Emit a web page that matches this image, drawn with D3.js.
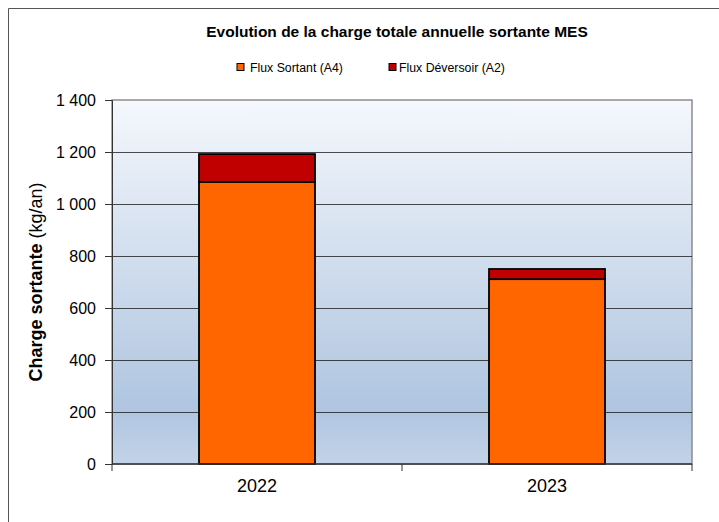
<html>
<head><meta charset="utf-8"></head>
<script src='https://d3js.org/d3.v7.min.js'></script>
<style>
body {margin:0; background:#fff;}
text {font-family: Arial, 'Liberation Sans', sans-serif;}
</style>
<body onload='init()'>
<svg width=719 height=522></svg>
<script>
// values (kg/an)
const years = ['2022', '2023'];
const fluxSortant = [1085, 711];
const fluxDeversoir = [107, 39];
const seriesNames = ['Flux Sortant (A4)', 'Flux Déversoir (A2)'];
const seriesColors = ['#ff6600', '#c00000'];
const yTicks = [0, 200, 400, 600, 800, 1000, 1200, 1400];

function init() {
var svg = d3.select('svg');
var left = 112, top = 100, width = 580, height = 364;

// outer frame (only top and left show in the picture)
svg.append('path').attr('d', 'M8.5,522 V8.5 H719').attr('fill', 'none').attr('stroke', '#555');

var x = d3.scaleBand().domain(years).range([0, width]).paddingInner(0.6).paddingOuter(0.3);
var y = d3.scaleLinear().domain([0, 1400]).range([height, 0]);

var defs = svg.append('defs');
var grad = defs.append('linearGradient').attr('id', 'bg').attr('x1', 0).attr('y1', 0).attr('x2', 0).attr('y2', 1);
grad.append('stop').attr('offset', '0%').attr('stop-color', '#f5f8fd');
grad.append('stop').attr('offset', '85%').attr('stop-color', '#afc5e0');
grad.append('stop').attr('offset', '100%').attr('stop-color', '#c3d3e8');

var g = svg.append('g').attr('transform', 'translate(' + left + ',' + top + ')');

g.append('rect').attr('width', width).attr('height', height)
  .attr('fill', 'url(#bg)').attr('stroke', '#8c8c8c').attr('stroke-width', 1.5);

// gridlines
g.selectAll('.grid').data(yTicks.filter(d => d > 0 && d < 1400)).enter().append('line')
  .attr('x1', 0).attr('x2', width)
  .attr('y1', d => Math.round(y(d)) + 0.5).attr('y2', d => Math.round(y(d)) + 0.5)
  .attr('stroke', '#111').attr('stroke-opacity', 0.75);

// stacked bars
var stack = years.map((yr, i) => ({year: yr, parts: [[0, fluxSortant[i]], [fluxSortant[i], fluxSortant[i] + fluxDeversoir[i]]]}));
stack.forEach(function(s) {
  g.selectAll(null).data(s.parts).enter().append('rect')
    .attr('x', x(s.year))
    .attr('width', x.bandwidth())
    .attr('y', d => y(d[1]))
    .attr('height', d => y(d[0]) - y(d[1]))
    .attr('fill', (d, j) => seriesColors[j])
    .attr('stroke', '#000').attr('stroke-width', 1.8);
});

// y axis
var fmt = d3.formatLocale({decimal: ',', thousands: ' ', grouping: [3], currency: ['', '']}).format(',d');
var yAxis = d3.axisLeft(y).tickValues(yTicks).tickFormat(fmt).tickSize(7).tickPadding(9);
var ya = g.append('g').call(yAxis);
ya.select('.domain').attr('stroke', '#333');
ya.selectAll('line').attr('stroke', '#333');
ya.selectAll('text').attr('font-size', 16).attr('fill', '#000').attr('font-family', 'Arial, Liberation Sans');

// x axis: ticks at category boundaries
var xa = g.append('g').attr('transform', 'translate(0,' + height + ')');
xa.append('line').attr('x1', 0).attr('x2', width).attr('stroke', '#333').attr('stroke-width', 1.5);
[0, width / 2, width].forEach(function(t) {
  xa.append('line').attr('x1', t).attr('x2', t).attr('y1', 0).attr('y2', 7).attr('stroke', '#333');
});
xa.selectAll('.lab').data(years).enter().append('text')
  .attr('x', d => x(d) + x.bandwidth() / 2).attr('y', 28)
  .attr('text-anchor', 'middle').attr('font-size', 18).text(d => d);

// y label
var yl = svg.append('text').attr('transform', 'translate(42,' + (top + height / 2) + ') rotate(-90)')
  .attr('text-anchor', 'middle').attr('font-size', 18);
yl.append('tspan').attr('font-weight', 'bold').text('Charge sortante');
yl.append('tspan').text(' (kg/an)');

// title
svg.append('text').attr('x', 397).attr('y', 37).attr('text-anchor', 'middle')
  .attr('font-size', 15.5).attr('font-weight', 'bold').text('Evolution de la charge totale annuelle sortante MES');

// legend
var legX = [237, 389];
seriesNames.forEach(function(n, i) {
  svg.append('rect').attr('x', legX[i]).attr('y', 63.5).attr('width', 7).attr('height', 7)
    .attr('fill', seriesColors[i]).attr('stroke', '#000').attr('stroke-width', 1);
  svg.append('text').attr('x', legX[i] + (i == 0 ? 13 : 10)).attr('y', 71.5)
    .attr('font-size', 12.3).text(n);
});
}
</script>
</body>
</html>
